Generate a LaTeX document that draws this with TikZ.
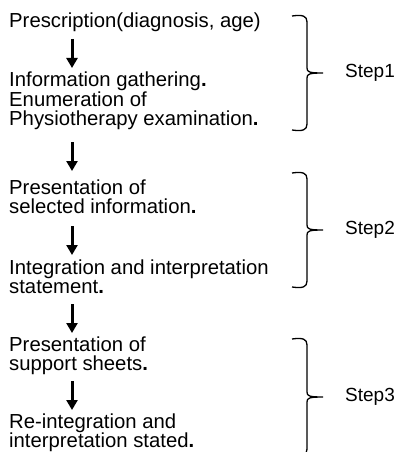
\documentclass[tikz,border=0pt]{standalone}
\usepackage{fontspec}
\setmainfont{Liberation Sans}
\usetikzlibrary{arrows.meta}
\newcommand{\bdot}{\textbf{.}}
\begin{document}
\begin{tikzpicture}[x=1pt,y=-1pt,
  txt/.style={anchor=base west,inner sep=0pt,font=\fontsize{20.3}{20.3}\selectfont},
  steplabel/.style={anchor=west,inner sep=0pt,font=\fontsize{19}{19}\selectfont},
  flowarrow/.style={line width=3pt,-{Triangle[width=11pt,length=10pt]}},
  brace/.style={line width=1.3pt}]
\useasboundingbox (0,0) rectangle (398,452);
% text lines
\node[txt] (l1)  at (9,28)    {Prescription(diagnosis, age)};
\node[txt] (l2)  at (9,86.5)  {Information gathering\bdot};
\node[txt] (l3)  at (9,106)   {Enumeration of};
\node[txt] (l4)  at (9,125.5) {Physiotherapy examination\bdot};
\node[txt] (l5)  at (9,194)   {Presentation of};
\node[txt] (l6)  at (9,213.5) {selected information\bdot};
\node[txt] (l7)  at (9,274)   {Integration and interpretation};
\node[txt] (l8)  at (9,293.5) {statement\bdot};
\node[txt] (l9)  at (9,351)   {Presentation of};
\node[txt] (l10) at (9,370.5) {support sheets\bdot};
\node[txt] (l11) at (9,428.5) {Re-integration and};
\node[txt] (l12) at (9,447.3) {interpretation stated\bdot};
% arrow column
\coordinate (a1s) at (72,39);   \coordinate (a1e) at (72,68);
\coordinate (a2s) at (72,142);  \coordinate (a2e) at (72,171);
\coordinate (a3s) at (72,226);  \coordinate (a3e) at (72,255);
\coordinate (a4s) at (72,304);  \coordinate (a4e) at (72,333);
\coordinate (a5s) at (72,381);  \coordinate (a5e) at (72,410);
\draw[flowarrow] (a1s) -- (a1e);
\draw[flowarrow] (a2s) -- (a2e);
\draw[flowarrow] (a3s) -- (a3e);
\draw[flowarrow] (a4s) -- (a4e);
\draw[flowarrow] (a5s) -- (a5e);
% braces
\foreach \T/\M/\B in {16/73/130, 173/230/287, 339/397/455}{
  \draw[brace] (292,\T) .. controls (303,\T-1.5) and (307,\T) .. (307,\T+6)
    -- (307,\M-5) .. controls (307,\M-1) and (309,\M) .. (323,\M)
    .. controls (309,\M) and (307,\M+1) .. (307,\M+5)
    -- (307,\B-6) .. controls (307,\B) and (303,\B+1.5) .. (292,\B);
}
\node[steplabel] (s1) at (345,73)  {Step1};
\node[steplabel] (s2) at (345,230) {Step2};
\node[steplabel] (s3) at (345,397) {Step3};
\end{tikzpicture}
\end{document}
